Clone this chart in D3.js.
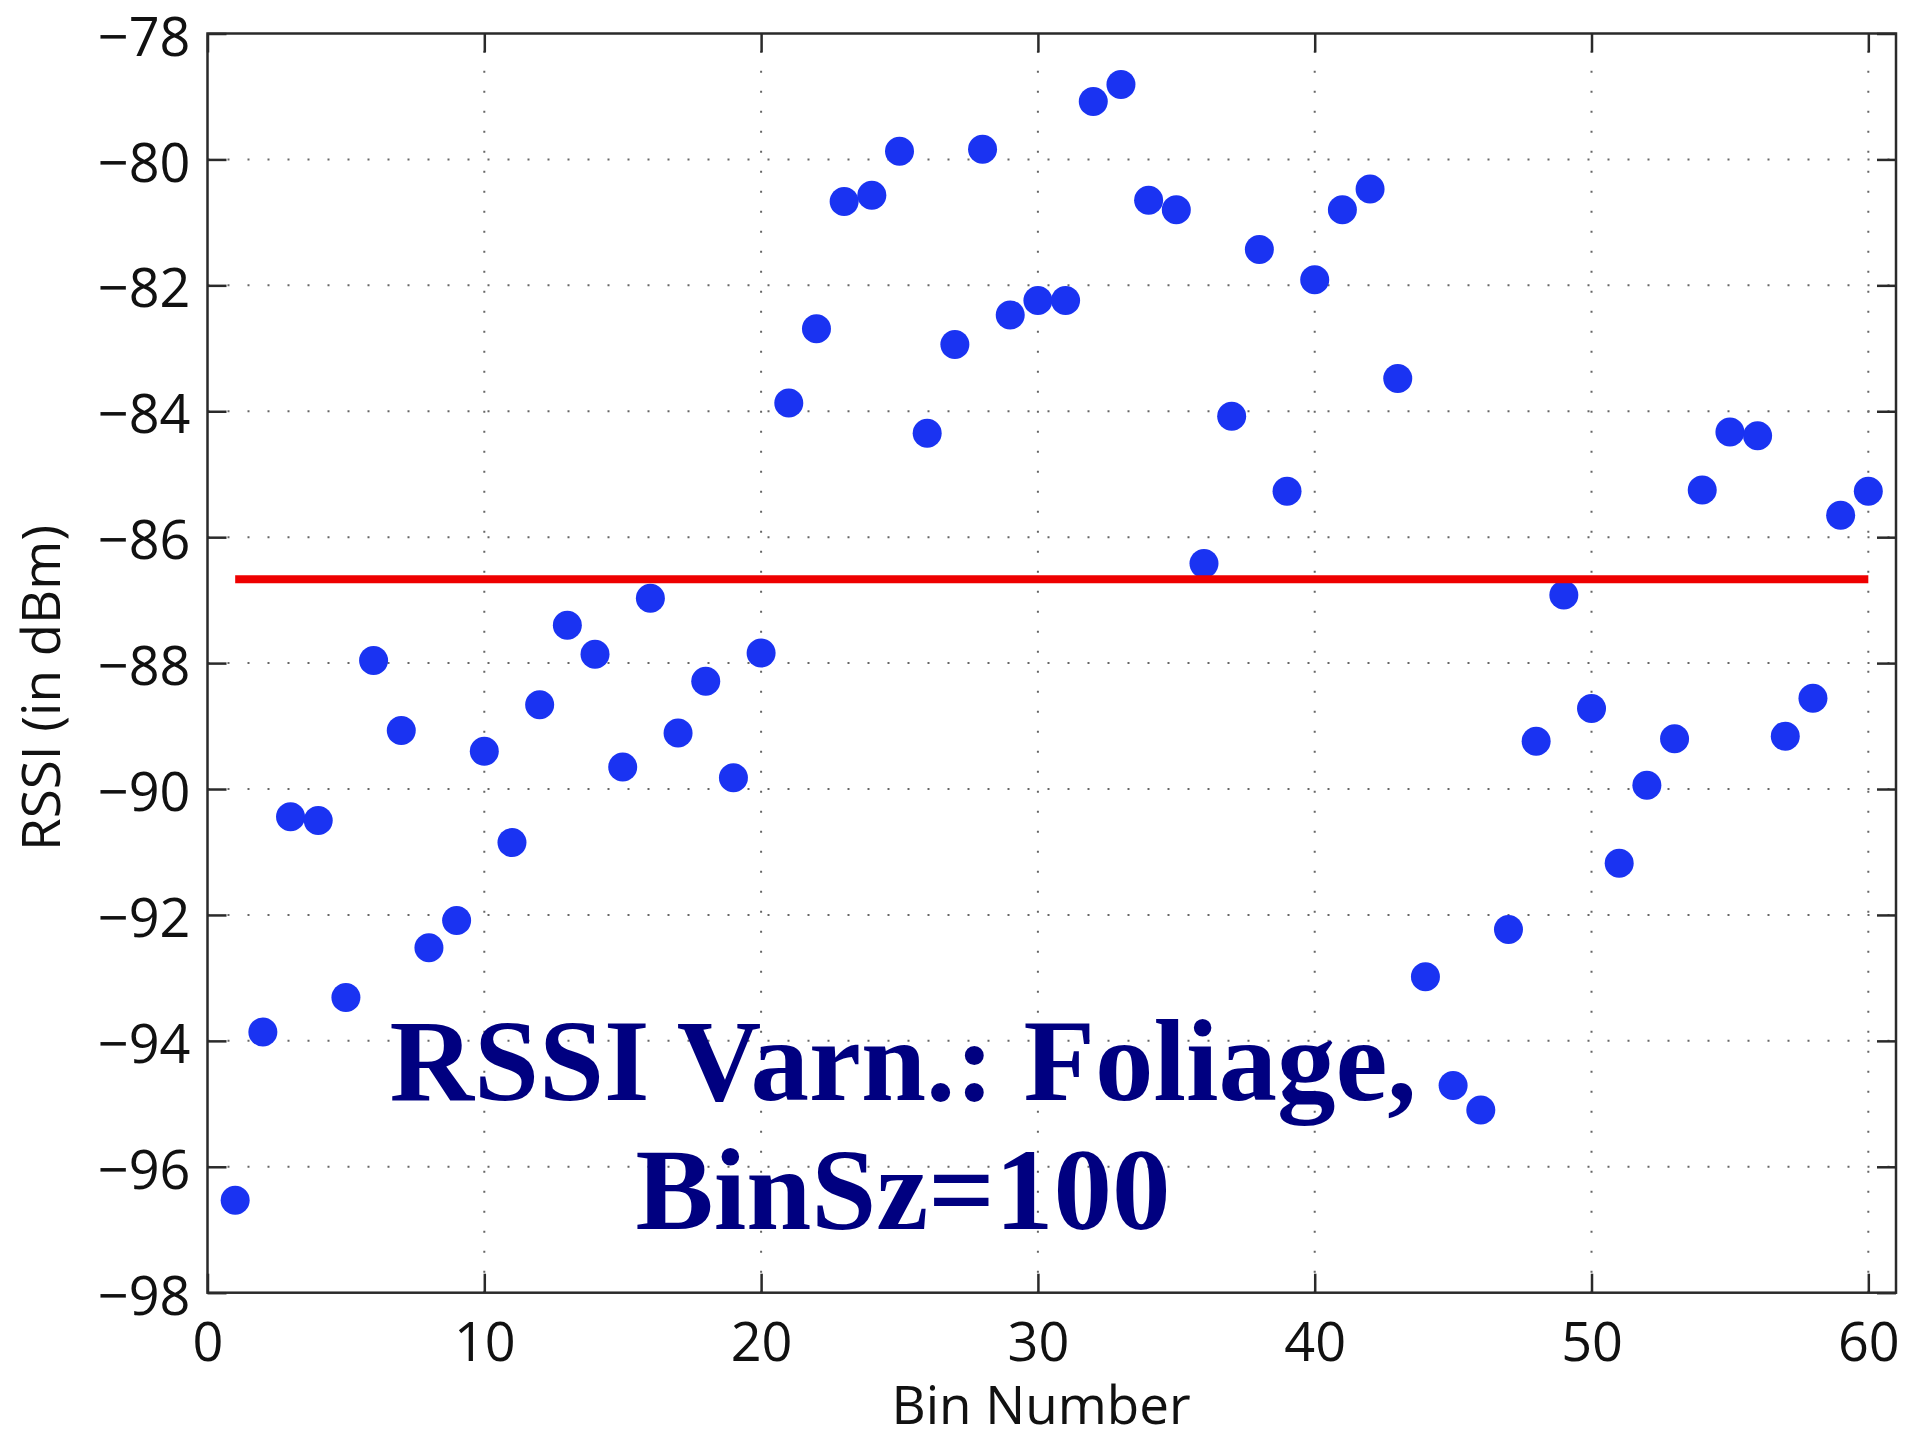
<!DOCTYPE html>
<html>
<head>
<meta charset="utf-8">
<script src="https://cdn.jsdelivr.net/npm/d3@7/dist/d3.min.js"></script>
<style>
  html, body { margin: 0; padding: 0; background: #fff; }
  svg { display: block; }
</style>
</head>
<body>
<svg id="chart" width="1915" height="1431"></svg>
<script>
// ---- data ----
const bins = d3.range(1, 61);
const rssi = [
  -96.53, -93.86, -90.44, -90.50, -93.31, -87.96, -89.07, -92.52, -92.09, -89.40,
  -90.85, -88.66, -87.40, -87.86, -89.65, -86.97, -89.11, -88.29, -89.82, -87.84,
  -83.87, -82.69, -80.67, -80.57, -79.87, -84.35, -82.94, -79.84, -82.47, -82.24,
  -82.24, -79.08, -78.81, -80.65, -80.80, -86.42, -84.08, -81.43, -85.27, -81.91,
  -80.80, -80.47, -83.48, -92.98, -94.71, -95.10, -92.23, -89.24, -86.92, -88.72,
  -91.18, -89.94, -89.20, -85.25, -84.33, -84.39, -89.16, -88.56, -85.65, -85.27
];
const meanLine = { x0: 1, x1: 60, y: -86.67 };
const xTicks = [0, 10, 20, 30, 40, 50, 60];
const yTicks = [-98, -96, -94, -92, -90, -88, -86, -84, -82, -80, -78];
const xDomain = [0, 61];
const yDomain = [-98, -78];
const titleLines = ["RSSI Varn.: Foliage,", "BinSz=100"];
const xLabel = "Bin Number";
const yLabel = "RSSI (in dBm)";

// ---- layout ----
const L = 207.5, R = 1896, T = 33.5, B = 1292.7;
const svg = d3.select("#chart");
const x = d3.scaleLinear().domain(xDomain).range([L, R]);
const y = d3.scaleLinear().domain(yDomain).range([B, T]);
const fontSans = "'Open Sans', 'DejaVu Sans', sans-serif";
const tickLen = 19;
const axisColor = "#2a2a2a";

// grid
const grid = svg.append("g").attr("stroke", "#666").attr("stroke-width", 2)
  .attr("stroke-dasharray", "2 18").attr("fill", "none");
grid.selectAll("line.v").data(xTicks.filter(v => v > xDomain[0] && v < xDomain[1]))
  .join("line").attr("x1", d => x(d)).attr("x2", d => x(d))
  .attr("y1", B).attr("y2", T);
grid.selectAll("line.h").data(yTicks.filter(v => v > yDomain[0] && v < yDomain[1]))
  .join("line").attr("class", "h").attr("x1", L).attr("x2", R)
  .attr("y1", d => y(d)).attr("y2", d => y(d));

// points
svg.append("g").selectAll("circle").data(bins)
  .join("circle")
  .attr("cx", (d, i) => x(d))
  .attr("cy", (d, i) => y(rssi[i]))
  .attr("r", 14.5)
  .attr("fill", "#1a33f2");

// mean line
svg.append("line")
  .attr("x1", x(meanLine.x0)).attr("x2", x(meanLine.x1))
  .attr("y1", y(meanLine.y)).attr("y2", y(meanLine.y))
  .attr("stroke", "#ee0000").attr("stroke-width", 8);

// axes with inward ticks
const fmt = d3.format("d");
const axB = svg.append("g").attr("transform", `translate(0,${B})`)
  .call(d3.axisBottom(x).tickValues(xTicks).tickFormat(fmt).tickSizeInner(-tickLen).tickSizeOuter(0).tickPadding(30));
const axT = svg.append("g").attr("transform", `translate(0,${T})`)
  .call(d3.axisTop(x).tickValues(xTicks).tickFormat("").tickSizeInner(-tickLen).tickSizeOuter(0));
const axL = svg.append("g").attr("transform", `translate(${L},0)`)
  .call(d3.axisLeft(y).tickValues(yTicks).tickFormat(fmt).tickSizeInner(-tickLen).tickSizeOuter(0).tickPadding(17));
const axR = svg.append("g").attr("transform", `translate(${R},0)`)
  .call(d3.axisRight(y).tickValues(yTicks).tickFormat("").tickSizeInner(-tickLen).tickSizeOuter(0));

[axB, axT, axL, axR].forEach(a => {
  a.select(".domain").remove();
  a.selectAll(".tick line").attr("stroke", axisColor).attr("stroke-width", 2.5);
  a.selectAll(".tick text").attr("fill", "#111").style("font-family", fontSans).style("font-size", "54px");
});
axB.selectAll(".tick text").attr("dy", "0.71em");
axL.selectAll(".tick text").attr("dy", "0.4em");

// box
svg.append("rect").attr("x", L).attr("y", T).attr("width", R - L).attr("height", B - T)
  .attr("fill", "none").attr("stroke", axisColor).attr("stroke-width", 2.5);

// axis labels
svg.append("text").attr("x", 1041).attr("y", 1424).attr("text-anchor", "middle")
  .style("font-family", fontSans).style("font-size", "53px").attr("fill", "#111").text(xLabel);
svg.append("text").attr("transform", "translate(60,688) rotate(-90)").attr("text-anchor", "middle")
  .style("font-family", fontSans).style("font-size", "53px").attr("fill", "#111").text(yLabel);

// title annotation
const tt = svg.append("text").attr("text-anchor", "middle")
  .style("font-family", "'Liberation Serif', 'Times New Roman', serif")
  .style("font-weight", "bold").style("font-size", "117px").attr("fill", "#000080");
tt.selectAll("tspan").data(titleLines).join("tspan")
  .attr("x", 903).attr("y", (d, i) => i === 0 ? 1100 : 1229).text(d => d);
</script>
</body>
</html>
